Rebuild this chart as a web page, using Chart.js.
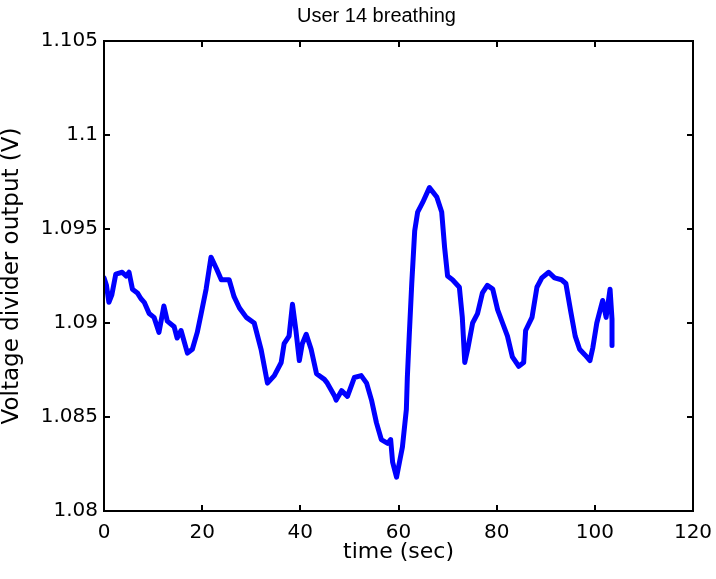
<!DOCTYPE html>
<html>
<head>
<meta charset="utf-8">
<script src="https://cdn.jsdelivr.net/npm/chart.js@4/dist/chart.umd.min.js"></script>
<style>
  html, body { margin: 0; padding: 0; background: #fff; }
  #wrap { width: 716px; height: 579px; position: relative; }
</style>
</head>
<body>
<div id="wrap"><canvas id="c" width="716" height="579"></canvas></div>
<script>
const chartTitle = "User 14 breathing";
const xAxisTitle = "time (sec)";
const yAxisTitle = "Voltage divider output (V)";

const timeSec = [0, 0.5, 1.0, 1.6, 2.4, 3.7, 4.5, 5.1, 5.8, 6.8, 7.5, 8.2, 9.2, 10.2, 11.2, 12.2, 12.9, 14.3, 14.9, 15.7,
  17.0, 18.0, 19.0, 19.8, 20.8, 21.8, 22.9, 23.9, 25.5, 26.5, 27.6, 29.0, 30.6, 32.0, 33.3, 34.7, 36.1, 36.7, 37.7, 38.4,
  39.1, 39.8, 40.4, 41.2, 42.2, 43.3, 44.9, 45.5, 47.0, 47.3, 48.4, 49.6, 51.0, 52.4, 53.5, 54.5, 55.5, 56.5, 57.8, 58.4,
  58.8, 59.6, 60.2, 60.8, 61.6, 61.8, 62.2, 62.7, 63.3, 63.9, 64.9, 66.3, 67.8, 68.8, 69.4, 70.0, 71.0, 72.4, 73.0, 73.5,
  74.1, 75.1, 76.1, 77.1, 78.1, 79.2, 80.2, 81.2, 82.2, 83.2, 84.5, 85.5, 85.9, 87.2, 88.2, 89.2, 90.6, 91.8, 93.2, 94.1,
  95.1, 96.0, 96.9, 98.0, 99.0, 99.6, 100.4, 101.6, 102.3, 103.1, 103.5, 103.5];

const voltage = [1.0924, 1.0920, 1.0911, 1.0915, 1.0926, 1.0927, 1.0925, 1.0927, 1.0918, 1.0916, 1.0913, 1.0911, 1.0905, 1.0903, 1.0895, 1.0909, 1.0901, 1.0898, 1.0892, 1.0896,
  1.0884, 1.0886, 1.0895, 1.0905, 1.0918, 1.0935, 1.0929, 1.0923, 1.0923, 1.0914, 1.0908, 1.0903, 1.0900, 1.0886, 1.0868, 1.0872, 1.0879, 1.0889, 1.0893, 1.0910,
  1.0896, 1.0880, 1.0889, 1.0894, 1.0886, 1.0873, 1.0870, 1.0868, 1.0861, 1.0859, 1.0864, 1.0861, 1.0871, 1.0872, 1.0868, 1.0859, 1.0847, 1.0838, 1.0836, 1.0838,
  1.0826, 1.0818, 1.0826, 1.0834, 1.0854, 1.0871, 1.0894, 1.0921, 1.0949, 1.0959, 1.0964, 1.0972, 1.0967, 1.0959, 1.0940, 1.0925, 1.0923, 1.0919, 1.0903, 1.0879,
  1.0886, 1.0900, 1.0905, 1.0916, 1.0920, 1.0918, 1.0907, 1.0900, 1.0893, 1.0882, 1.0877, 1.0879, 1.0896, 1.0903, 1.0919, 1.0924, 1.0927, 1.0924, 1.0923, 1.0921,
  1.0906, 1.0893, 1.0886, 1.0883, 1.0880, 1.0887, 1.0900, 1.0912, 1.0903, 1.0918, 1.0902, 1.0888];

const xTickValues = [0, 20, 40, 60, 80, 100, 120];
const xTickLabels = ["0", "20", "40", "60", "80", "100", "120"];
const yTickValues = [1.08, 1.085, 1.09, 1.095, 1.1, 1.105];
const yTickLabels = ["1.08", "1.085", "1.09", "1.095", "1.1", "1.105"];

const FONT = "'Liberation Sans', Arial, sans-serif";
const WIDE = "'DejaVu Sans', 'Liberation Sans', sans-serif";

const framePlugin = {
  id: 'frame',
  afterLayout(chart) {
    if (chart.titleBlock) { chart.titleBlock.left = 60; }
  },
  afterDatasetsDraw(chart) {
    const { ctx, chartArea: a, scales } = chart;
    const tl = 6;
    ctx.save();
    ctx.strokeStyle = '#000';
    ctx.lineWidth = 2;
    ctx.strokeRect(a.left, a.top, a.right - a.left, a.bottom - a.top);
    ctx.beginPath();
    scales.x.ticks.forEach(t => {
      const px = Math.round(scales.x.getPixelForValue(t.value));
      ctx.moveTo(px, a.bottom); ctx.lineTo(px, a.bottom - tl);
      ctx.moveTo(px, a.top); ctx.lineTo(px, a.top + tl);
    });
    scales.y.ticks.forEach(t => {
      const py = Math.round(scales.y.getPixelForValue(t.value));
      ctx.moveTo(a.left, py); ctx.lineTo(a.left + tl, py);
      ctx.moveTo(a.right, py); ctx.lineTo(a.right - tl, py);
    });
    ctx.stroke();
    ctx.restore();
  }
};

new Chart(document.getElementById('c'), {
  type: 'line',
  data: {
    datasets: [{
      data: timeSec.map((t, i) => ({ x: t, y: voltage[i] })),
      borderColor: '#0000ff',
      borderWidth: 5,
      pointRadius: 0,
      tension: 0,
      fill: false,
      borderJoinStyle: 'round',
      borderCapStyle: 'round'
    }]
  },
  options: {
    responsive: false,
    animation: false,
    layout: { padding: { left: 0, right: 23, top: 0, bottom: 0 } },
    plugins: {
      legend: { display: false },
      tooltip: { enabled: false },
      title: {
        display: true,
        text: chartTitle,
        color: '#000',
        font: { family: FONT, size: 20, weight: 'normal', lineHeight: 1.2 },
        padding: { top: 4, bottom: 13 }
      }
    },
    scales: {
      x: {
        type: 'linear',
        min: 0, max: 120,
        afterBuildTicks: s => { s.ticks = xTickValues.map(v => ({ value: v })); },
        afterFit: s => { s.height = 68; s.paddingLeft = 0; s.paddingRight = 0; },
        grid: { display: false, drawTicks: false },
        border: { display: false },
        ticks: {
          color: '#000',
          padding: 10,
          maxRotation: 0,
          font: { family: WIDE, size: 20 },
          callback: (v, i) => xTickLabels[i]
        },
        title: {
          display: true,
          text: xAxisTitle,
          color: '#000',
          font: { family: WIDE, size: 22, lineHeight: 1.2 },
          padding: { top: 0, bottom: 14 }
        }
      },
      y: {
        type: 'linear',
        min: 1.08, max: 1.105,
        afterBuildTicks: s => { s.ticks = yTickValues.map(v => ({ value: v })); },
        afterFit: s => { s.width = 104; s.paddingTop = 0; s.paddingBottom = 0; },
        grid: { display: false, drawTicks: false },
        border: { display: false },
        ticks: {
          color: '#000',
          padding: 6,
          font: { family: WIDE, size: 20 },
          callback: (v, i) => yTickLabels[i]
        },
        title: {
          display: true,
          text: yAxisTitle,
          color: '#000',
          font: { family: WIDE, size: 23, lineHeight: 1.0 },
          padding: { top: 1, bottom: 0 }
        }
      }
    }
  },
  plugins: [framePlugin]
});
</script>
</body>
</html>
